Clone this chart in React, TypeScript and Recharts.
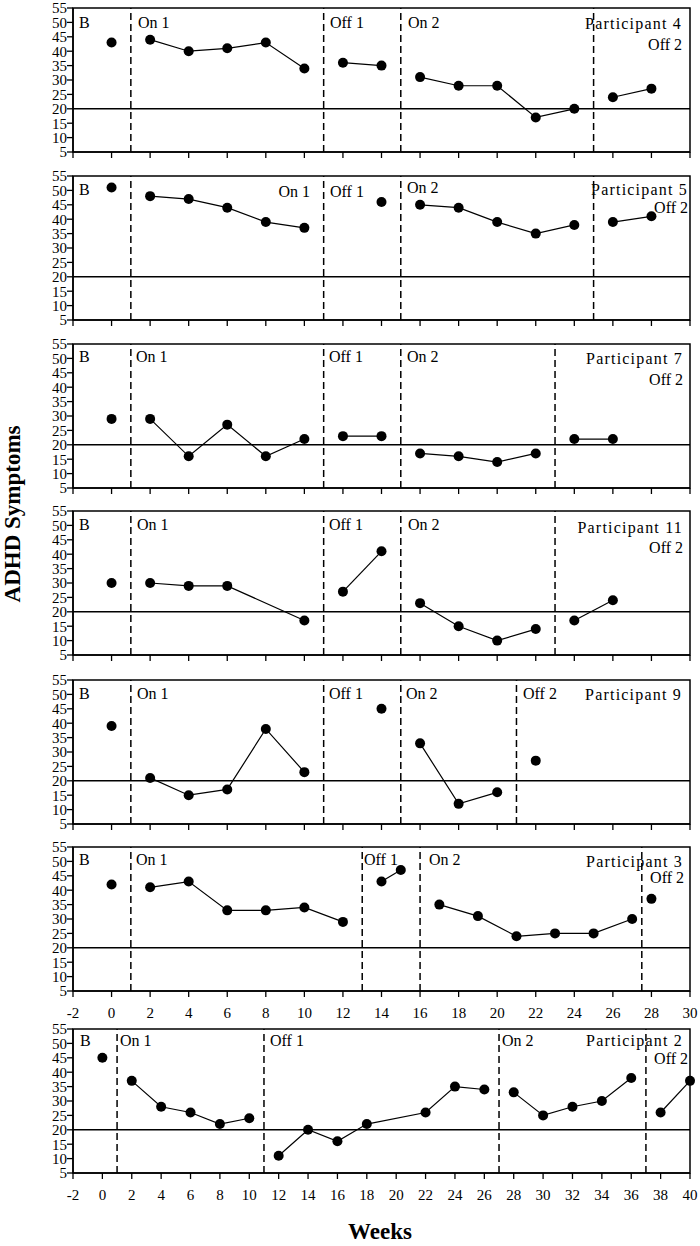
import React from "react";
import {
  ComposedChart,
  Line,
  XAxis,
  YAxis,
  ReferenceLine,
  ReferenceArea,
} from "recharts";

const FONT = '"Liberation Serif", "Times New Roman", serif';

const yTicks = [5, 10, 15, 20, 25, 30, 35, 40, 45, 50, 55];
const weekTicks30 = [-2, 0, 2, 4, 6, 8, 10, 12, 14, 16, 18, 20, 22, 24, 26, 28, 30];
const weekTicks40 = [
  -2, 0, 2, 4, 6, 8, 10, 12, 14, 16, 18, 20, 22, 24, 26, 28, 30, 32, 34, 36, 38, 40,
];
// phase index: 0 = B, 1 = On 1, 2 = Off 1, 3 = On 2, 4 = Off 2

// Participant 4
const p4Weeks = [0, 2, 4, 6, 8, 10, 12, 14, 16, 18, 20, 22, 24, 26, 28];
const p4Scores = [43, 44, 40, 41, 43, 34, 36, 35, 31, 28, 28, 17, 20, 24, 27];
const p4Phase = [0, 1, 1, 1, 1, 1, 2, 2, 3, 3, 3, 3, 3, 4, 4];
const p4Cuts = [1, 11, 15, 25];

// Participant 5
const p5Weeks = [0, 2, 4, 6, 8, 10, 14, 16, 18, 20, 22, 24, 26, 28];
const p5Scores = [51, 48, 47, 44, 39, 37, 46, 45, 44, 39, 35, 38, 39, 41];
const p5Phase = [0, 1, 1, 1, 1, 1, 2, 3, 3, 3, 3, 3, 4, 4];
const p5Cuts = [1, 11, 15, 25];

// Participant 7
const p7Weeks = [0, 2, 4, 6, 8, 10, 12, 14, 16, 18, 20, 22, 24, 26];
const p7Scores = [29, 29, 16, 27, 16, 22, 23, 23, 17, 16, 14, 17, 22, 22];
const p7Phase = [0, 1, 1, 1, 1, 1, 2, 2, 3, 3, 3, 3, 4, 4];
const p7Cuts = [1, 11, 15, 23];

// Participant 11
const p11Weeks = [0, 2, 4, 6, 10, 12, 14, 16, 18, 20, 22, 24, 26];
const p11Scores = [30, 30, 29, 29, 17, 27, 41, 23, 15, 10, 14, 17, 24];
const p11Phase = [0, 1, 1, 1, 1, 2, 2, 3, 3, 3, 3, 4, 4];
const p11Cuts = [1, 11, 15, 23];

// Participant 9
const p9Weeks = [0, 2, 4, 6, 8, 10, 14, 16, 18, 20, 22];
const p9Scores = [39, 21, 15, 17, 38, 23, 45, 33, 12, 16, 27];
const p9Phase = [0, 1, 1, 1, 1, 1, 2, 3, 3, 3, 4];
const p9Cuts = [1, 11, 15, 21];

// Participant 3
const p3Weeks = [0, 2, 4, 6, 8, 10, 12, 14, 15, 17, 19, 21, 23, 25, 27, 28];
const p3Scores = [42, 41, 43, 33, 33, 34, 29, 43, 47, 35, 31, 24, 25, 25, 30, 37];
const p3Phase = [0, 1, 1, 1, 1, 1, 1, 2, 2, 3, 3, 3, 3, 3, 3, 4];
const p3Cuts = [1, 13, 16, 27.5];

// Participant 2
const p2Weeks = [0, 2, 4, 6, 8, 10, 12, 14, 16, 18, 22, 24, 26, 28, 30, 32, 34, 36, 38, 40];
const p2Scores = [45, 37, 28, 26, 22, 24, 11, 20, 16, 22, 26, 35, 34, 33, 25, 28, 30, 38, 26, 37];
const p2Phase = [0, 1, 1, 1, 1, 1, 2, 2, 2, 2, 2, 2, 2, 3, 3, 3, 3, 3, 4, 4];
const p2Cuts = [1, 11, 27, 37];

const PLOT_H = 144;
const TOP_PAD = 12;

type Label = { t: string; x: number; y: number; a?: "start" | "end" };

const panels = [
  {
    weeks: p4Weeks, scores: p4Scores, phase: p4Phase, cuts: p4Cuts,
    xMax: 30, ticks: weekTicks30, top: 8, showTicks: false,
    labels: [
      { t: "B", x: 79, y: 20 },
      { t: "On 1", x: 138, y: 20 },
      { t: "Off 1", x: 330, y: 20 },
      { t: "On 2", x: 408, y: 20 },
      { t: "Participant 4", x: 682, y: 21, a: "end" },
      { t: "Off 2", x: 682, y: 42, a: "end" },
    ] as Label[],
  },
  {
    weeks: p5Weeks, scores: p5Scores, phase: p5Phase, cuts: p5Cuts,
    xMax: 30, ticks: weekTicks30, top: 176, showTicks: false,
    labels: [
      { t: "B", x: 79, y: 19 },
      { t: "On 1", x: 310, y: 21, a: "end" },
      { t: "Off 1", x: 330, y: 21 },
      { t: "On 2", x: 407, y: 17 },
      { t: "Participant 5", x: 688, y: 19, a: "end" },
      { t: "Off 2", x: 688, y: 37, a: "end" },
    ] as Label[],
  },
  {
    weeks: p7Weeks, scores: p7Scores, phase: p7Phase, cuts: p7Cuts,
    xMax: 30, ticks: weekTicks30, top: 344, showTicks: false,
    labels: [
      { t: "B", x: 79, y: 18 },
      { t: "On 1", x: 136, y: 18 },
      { t: "Off 1", x: 329, y: 18 },
      { t: "On 2", x: 407, y: 18 },
      { t: "Participant 7", x: 683, y: 20, a: "end" },
      { t: "Off 2", x: 683, y: 41, a: "end" },
    ] as Label[],
  },
  {
    weeks: p11Weeks, scores: p11Scores, phase: p11Phase, cuts: p11Cuts,
    xMax: 30, ticks: weekTicks30, top: 511, showTicks: false,
    labels: [
      { t: "B", x: 79, y: 19 },
      { t: "On 1", x: 137, y: 19 },
      { t: "Off 1", x: 329, y: 19 },
      { t: "On 2", x: 408, y: 19 },
      { t: "Participant 11", x: 683, y: 22, a: "end" },
      { t: "Off 2", x: 683, y: 42, a: "end" },
    ] as Label[],
  },
  {
    weeks: p9Weeks, scores: p9Scores, phase: p9Phase, cuts: p9Cuts,
    xMax: 30, ticks: weekTicks30, top: 680, showTicks: false,
    labels: [
      { t: "B", x: 79, y: 19 },
      { t: "On 1", x: 137, y: 19 },
      { t: "Off 1", x: 329, y: 19 },
      { t: "On 2", x: 406, y: 19 },
      { t: "Off 2", x: 523, y: 19 },
      { t: "Participant 9", x: 682, y: 20, a: "end" },
    ] as Label[],
  },
  {
    weeks: p3Weeks, scores: p3Scores, phase: p3Phase, cuts: p3Cuts,
    xMax: 30, ticks: weekTicks30, top: 847, showTicks: true,
    labels: [
      { t: "B", x: 79, y: 18 },
      { t: "On 1", x: 136, y: 18 },
      { t: "Off 1", x: 364, y: 18 },
      { t: "On 2", x: 429, y: 18 },
      { t: "Participant 3", x: 683, y: 20, a: "end" },
      { t: "Off 2", x: 684, y: 36, a: "end" },
    ] as Label[],
  },
  {
    weeks: p2Weeks, scores: p2Scores, phase: p2Phase, cuts: p2Cuts,
    xMax: 40, ticks: weekTicks40, top: 1029, showTicks: true,
    labels: [
      { t: "B", x: 80, y: 17 },
      { t: "On 1", x: 120, y: 17 },
      { t: "Off 1", x: 270, y: 17 },
      { t: "On 2", x: 502, y: 17 },
      { t: "Participant 2", x: 683, y: 17, a: "end" },
      { t: "Off 2", x: 688, y: 35, a: "end" },
    ] as Label[],
  },
];

function Panel({ cfg }: { cfg: (typeof panels)[number] }) {
  const data = cfg.weeks.map((w, i) => {
    const row: Record<string, number> = { week: w };
    row["ph" + cfg.phase[i]] = cfg.scores[i];
    return row;
  });
  const axisH = cfg.showTicks ? 40 : 10;

  return (
    <div style={{ position: "absolute", left: 0, top: cfg.top - TOP_PAD }}>
      <ComposedChart
        width={700}
        height={TOP_PAD + PLOT_H + axisH}
        data={data}
        margin={{ top: TOP_PAD, right: 10, bottom: 0, left: 0 }}
      >
        <XAxis
          type="number"
          dataKey="week"
          domain={[-2, cfg.xMax]}
          ticks={cfg.ticks}
          interval={0}
          height={axisH}
          tickSize={6}
          tickMargin={10}
          axisLine={{ stroke: "#000", strokeWidth: 1.5 }}
          tickLine={{ stroke: "#000", strokeWidth: 1.3 }}
          tick={
            cfg.showTicks
              ? { fill: "#000", fontSize: 15, fontFamily: FONT }
              : () => <g />
          }
        />
        <YAxis
          type="number"
          domain={[5, 55]}
          ticks={yTicks}
          interval={0}
          width={73}
          tickSize={6}
          tickMargin={0}
          axisLine={{ stroke: "#000", strokeWidth: 1.5 }}
          tickLine={{ stroke: "#000", strokeWidth: 1.3 }}
          tick={{ fill: "#000", fontSize: 15, fontFamily: FONT }}
        />
        <ReferenceArea
          x1={-2}
          x2={cfg.xMax}
          y1={5}
          y2={55}
          fill="none"
          stroke="#000"
          strokeWidth={1.5}
        />
        <ReferenceLine y={20} stroke="#000" strokeWidth={1.4} />
        {cfg.cuts.map((c) => (
          <ReferenceLine
            key={c}
            x={c}
            stroke="#000"
            strokeWidth={1.5}
            strokeDasharray="7 4"
          />
        ))}
        {[0, 1, 2, 3, 4].map((k) => (
          <Line
            key={k}
            dataKey={"ph" + k}
            stroke="#000"
            strokeWidth={1.2}
            dot={{ r: 5, fill: "#000", stroke: "none" }}
            connectNulls={false}
            isAnimationActive={false}
          />
        ))}
      </ComposedChart>
    </div>
  );
}

export default function App() {
  return (
    <div
      style={{
        position: "absolute",
        left: 0,
        top: 0,
        width: 700,
        height: 1246,
        background: "#fff",
        fontFamily: FONT,
      }}
    >
      <style>{`svg text { font-family: "Liberation Serif", "Times New Roman", serif; }`}</style>
      {panels.map((p, i) => (
        <Panel key={i} cfg={p} />
      ))}
      <svg
        width={700}
        height={1246}
        style={{ position: "absolute", left: 0, top: 0, pointerEvents: "none" }}
      >
        {panels.map((p, i) =>
          p.labels.map((l, j) => (
            <text
              key={i + "-" + j}
              x={l.x}
              y={p.top + l.y}
              textAnchor={l.a || "start"}
              fontSize={16}
              fontFamily={FONT}
              letterSpacing={l.t.startsWith("Participant") ? 1.2 : 0}
              fill="#000"
            >
              {l.t}
            </text>
          ))
        )}
        <text
          x={20}
          y={514}
          transform="rotate(-90, 20, 514)"
          textAnchor="middle"
          fontSize={23}
          fontWeight="bold"
          fontFamily={FONT}
          fill="#000"
        >
          ADHD Symptoms
        </text>
        <text
          x={380}
          y={1239}
          textAnchor="middle"
          fontSize={23}
          fontWeight="bold"
          fontFamily={FONT}
          fill="#000"
        >
          Weeks
        </text>
      </svg>
    </div>
  );
}
